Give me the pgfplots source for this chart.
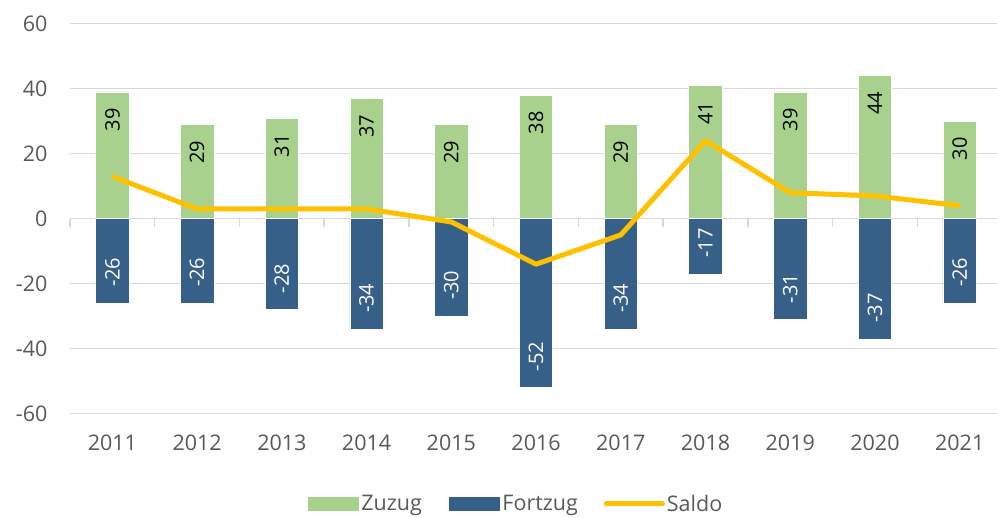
\documentclass[border=0pt]{standalone}
\usepackage{fontspec}
\setmainfont{Open Sans}
\usepackage{pgfplots}
\pgfplotsset{compat=1.18}
\definecolor{zuzug}{HTML}{A9D18E}
\definecolor{fortzug}{HTML}{376089}
\definecolor{saldo}{HTML}{FFC000}
\definecolor{gridc}{HTML}{D9D9D9}
\definecolor{txt}{HTML}{595959}
\pgfplotsset{
  barlegend/.style={legend image code/.code={\fill[##1] (0pt,-7.5pt) rectangle (52pt,7.5pt);}},
  linelegend/.style={legend image code/.code={\draw[##1, line cap=round] (0pt,0pt) -- (56pt,0pt);}},
}
\begin{document}
\begin{tikzpicture}
\begin{axis}[
  scale only axis, width=927pt, height=390pt,
  xmin=-0.5, xmax=10.44, ymin=-60, ymax=60,
  axis x line*=middle, axis y line*=left,
  y axis line style={draw=none},
  x axis line style={draw=gridc, line width=1.5pt},
  ytick={-60,-40,...,60},
  xtick={0,...,10},
  xticklabels={2011,2012,2013,2014,2015,2016,2017,2018,2019,2020,2021},
  minor xtick={-0.5,0.5,...,10.5},
  major tick length=0pt,
  minor tick length=8pt,
  tick align=outside,
  minor tick style={draw=gridc, line width=1.5pt},
  ymajorgrids, grid style={draw=gridc, line width=1.5pt},
  /pgf/number format/assume math mode=true,
  ticklabel style={font=\fontsize{21.5}{25}\selectfont, text=txt},
  xticklabel style={yshift=-213pt},
  yticklabel style={xshift=-19pt},
  legend style={at={(0.4806,-0.2315)}, anchor=center, draw=none, fill=none,
    font=\fontsize{21.5}{25}\selectfont, text=txt, legend columns=3,
    /tikz/every even column/.append style={column sep=24pt}},
  legend cell align=left,
]
\addplot[ybar, bar width=33.5pt, bar shift=0pt, fill=zuzug, draw=white, line width=0.6pt, barlegend,
  nodes near coords, nodes near coords style={rotate=90, anchor=east, inner xsep=16pt, inner ysep=0pt,
  font=\fontsize{20}{22}\selectfont, text=black}]
  coordinates {(0,39) (1,29) (2,31) (3,37) (4,29) (5,38) (6,29) (7,41) (8,39) (9,44) (10,30)};
\addlegendentry{Zuzug}
\addplot[ybar, bar width=33.5pt, bar shift=0pt, fill=fortzug, draw=white, line width=0.6pt, barlegend,
  nodes near coords, nodes near coords style={rotate=90, anchor=west, inner xsep=16pt, inner ysep=0pt,
  font=\fontsize{20}{22}\selectfont, text=white}]
  coordinates {(0,-26) (1,-26) (2,-28) (3,-34) (4,-30) (5,-52) (6,-34) (7,-17) (8,-31) (9,-37) (10,-26)};
\addlegendentry{Fortzug}
\addplot[saldo, line width=5pt, line join=round, mark=none, linelegend]
  coordinates {(0,13) (1,3) (2,3) (3,3) (4,-1) (5,-14) (6,-5) (7,24) (8,8) (9,7) (10,4)};
\addlegendentry{Saldo}
\end{axis}
\pgfresetboundingbox
\path (current axis.south west) ++(-70pt,-104.3pt) rectangle ++(997pt,518pt);
\end{tikzpicture}
\end{document}
